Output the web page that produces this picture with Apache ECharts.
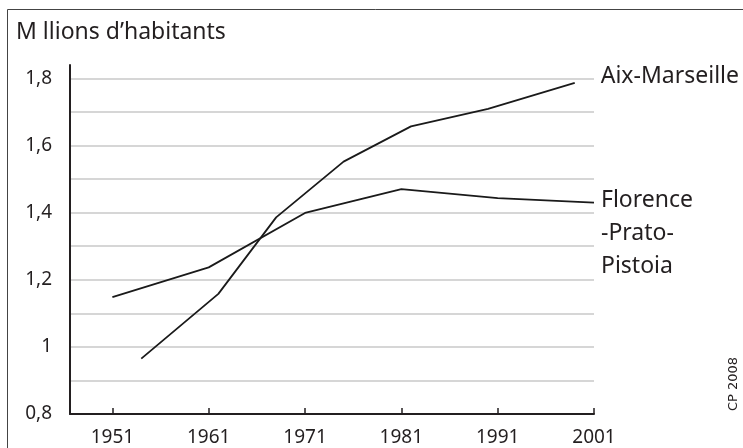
<!DOCTYPE html>
<html>
<head>
<meta charset="utf-8">
<script src="https://cdn.jsdelivr.net/npm/echarts@6/dist/echarts.min.js"></script>
<style>
  html, body { margin: 0; padding: 0; background: #fff; }
  #chart { width: 743px; height: 448px; }
</style>
</head>
<body>
<div id="chart"></div>
<script>
// Florence-Prato-Pistoia: Italian census years
const florenceYears = [1951, 1961, 1971, 1981, 1991, 2001]
const florenceValues = [1.148, 1.237, 1.399, 1.470, 1.443, 1.43]
// Aix-Marseille: French census years
const aixYears = [1954, 1962, 1968, 1975, 1982, 1990, 1999]
const aixValues = [0.965, 1.158, 1.386, 1.552, 1.657, 1.709, 1.787]

const xTicks = [1951, 1961, 1971, 1981, 1991, 2001]
const yLabels = [0.8, 1, 1.2, 1.4, 1.6, 1.8]
const yGrid = [0.8, 0.9, 1, 1.1, 1.2, 1.3, 1.4, 1.5, 1.6, 1.7, 1.8]

const ink = '#231f20'
const font = 'Noto Sans'

const chart = echarts.init(document.getElementById('chart'))

chart.setOption({
  animation: false,
  title: {
    text: 'M llions d’habitants',
    left: 11,
    top: 16,
    textStyle: { fontFamily: font, fontSize: 23, fontWeight: 'normal', color: ink }
  },
  grid: { left: 70, right: 149, top: 65, bottom: 34 },
  xAxis: {
    type: 'value',
    min: 1946.6,
    max: 2001,
    axisLine: { show: true, lineStyle: { color: ink, width: 2 } },
    axisTick: {
      show: true,
      inside: true,
      length: 6,
      customValues: xTicks,
      lineStyle: { color: ink, width: 1.5 }
    },
    axisLabel: {
      customValues: xTicks,
      margin: 14,
      fontFamily: font,
      fontSize: 19,
      color: ink,
      formatter: v => String(v)
    },
    splitLine: { show: false }
  },
  yAxis: {
    type: 'value',
    min: 0.8,
    max: 1.84,
    axisLine: { show: true, lineStyle: { color: ink, width: 2 } },
    axisTick: { show: false, customValues: yGrid },
    axisLabel: {
      customValues: yLabels,
      margin: 18,
      fontFamily: font,
      fontSize: 19,
      color: ink,
      formatter: v => String(Math.round(v * 10) / 10).replace('.', ',')
    },
    splitLine: { show: true, lineStyle: { color: '#c8c8c8', width: 1.5 } }
  },
  series: [
    {
      name: 'Aix-Marseille',
      type: 'line',
      data: aixYears.map((y, i) => [y, aixValues[i]]),
      showSymbol: false,
      lineStyle: { color: '#1a1a1a', width: 1.8 },
      endLabel: {
        show: true,
        formatter: 'Aix-Marseille',
        distance: 26,
        offset: [0, -6],
        fontFamily: font,
        fontSize: 23,
        color: ink
      }
    },
    {
      name: 'Florence-Prato-Pistoia',
      type: 'line',
      data: florenceYears.map((y, i) => [y, florenceValues[i]]),
      showSymbol: false,
      lineStyle: { color: '#1a1a1a', width: 1.8 },
      endLabel: {
        show: true,
        formatter: 'Florence\n-Prato-\nPistoia',
        distance: 7,
        verticalAlign: 'top',
        offset: [0, -19],
        lineHeight: 33,
        fontFamily: font,
        fontSize: 23,
        color: ink
      }
    }
  ],
  graphic: [
    {
      type: 'rect',
      silent: true,
      shape: { x: 7.5, y: 9.5, width: 800, height: 500 },
      style: { fill: 'none', stroke: '#444', lineWidth: 1 }
    },
    {
      type: 'text',
      silent: true,
      x: 740,
      y: 411,
      rotation: Math.PI / 2,
      style: {
        text: 'CP 2008',
        fontFamily: 'DejaVu Sans',
        fontSize: 13,
        fill: ink,
        align: 'left',
        verticalAlign: 'bottom'
      }
    }
  ]
})
</script>
</body>
</html>
